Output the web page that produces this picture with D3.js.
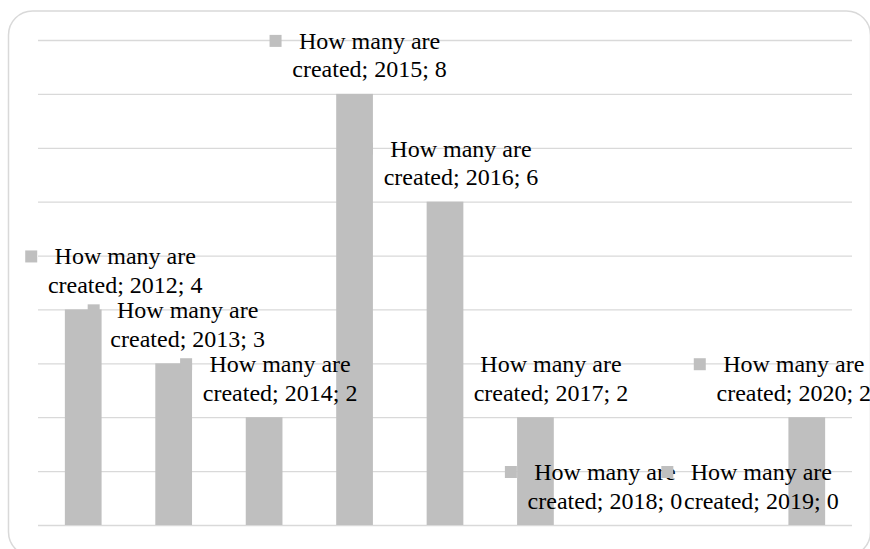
<!DOCTYPE html>
<html lang="en">
  <head>
    <meta charset="utf-8">
    <title>How many are created</title>
    <style>
      body { margin: 0; background: #fff; }
      .grid line { stroke: #d9d9d9; stroke-width: 1.3; }
      .grid path { display: none; }
      .grid text { display: none; }
      .bar { fill: #bfbfbf; }
      .marker { fill: #bfbfbf; }
    </style>
  </head>
  <body>
    <svg width="870" height="549" id="svg"></svg>
    <script src="https://d3js.org/d3.v7.min.js"></script>
    <script>

    var seriesName = "How many are created";
    var years = ["2012", "2013", "2014", "2015", "2016", "2017", "2018", "2019", "2020"];
    var counts = [4, 3, 2, 8, 6, 2, 0, 0, 2];
    var yTicks = [0, 1, 2, 3, 4, 5, 6, 7, 8, 9];

    // hand-moved label offsets (px from bar centre), like the dragged labels in the original
    var labelNudge = [42, 14, 16, 15, 16, 15.5, -21, 45, -13];

    var svg = d3.select("svg"),
        plot = {left: 38, right: 852, top: 40, bottom: 525};

    // chart border
    svg.append("rect")
        .attr("x", 8.5).attr("y", 11)
        .attr("width", 862).attr("height", 545)
        .attr("rx", 24).attr("ry", 24)
        .attr("fill", "none")
        .attr("stroke", "#d9d9d9")
        .attr("stroke-width", 1.5);

    var x = d3.scaleBand().domain(years).range([plot.left, plot.right])
        .paddingInner(0.594).paddingOuter(0.297);
    var y = d3.scaleLinear().domain([0, 9]).range([plot.bottom, plot.top]);

    svg.append("g")
        .attr("class", "grid")
        .attr("transform", "translate(" + plot.left + ",0)")
        .call(d3.axisLeft(y).tickValues(yTicks).tickSize(-(plot.right - plot.left)).tickFormat(""));

    var data = years.map(function(d, i) { return {year: d, value: counts[i], dx: labelNudge[i]}; });

    svg.selectAll(".bar")
      .data(data)
      .enter().append("rect")
        .attr("class", "bar")
        .attr("x", function(d) { return x(d.year); })
        .attr("y", function(d) { return y(d.value); })
        .attr("width", x.bandwidth())
        .attr("height", function(d) { return y(0) - y(d.value); });

    var labels = svg.selectAll(".lab")
      .data(data)
      .enter().append("g")
        .attr("class", "lab")
        .attr("transform", function(d) {
          var cx = x(d.year) + x.bandwidth() / 2 + d.dx;
          return "translate(" + cx + "," + (y(d.value) - 45) + ")";
        });

    labels.append("rect")
        .attr("class", "marker")
        .attr("x", -100).attr("y", -14)
        .attr("width", 12).attr("height", 12);

    var t = labels.append("text")
        .attr("font-family", "'Liberation Serif', 'DejaVu Serif', serif")
        .attr("font-size", 24)
        .attr("fill", "#000")
        .attr("text-anchor", "middle");
    t.append("tspan").attr("x", 0).attr("y", 0).text("How many are");
    t.append("tspan").attr("x", 0).attr("y", 28.5)
        .text(function(d) { return "created; " + d.year + "; " + d.value; });

    </script>
  </body>
</html>
